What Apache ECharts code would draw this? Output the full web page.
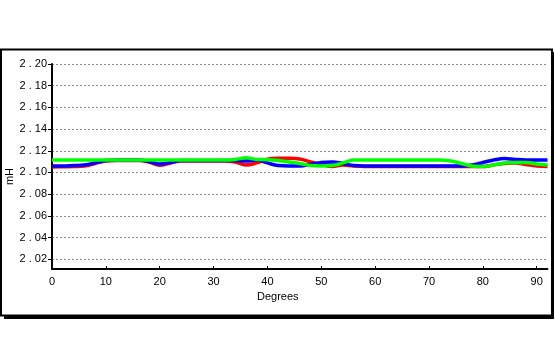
<!DOCTYPE html>
<html>
<head>
<meta charset="utf-8">
<script src="https://cdn.jsdelivr.net/npm/echarts@6/dist/echarts.min.js"></script>
<style>html,body{margin:0;padding:0;background:#fff;}#c{width:555px;height:360px;}</style>
</head>
<body>
<div id="c"></div>
<script>
var degrees = [0,2,4,6,8,10,12,14,16,18,20,22,24,26,28,30,32,34,36,38,40,42,44,46,48,50,52,54,56,58,60,62,64,66,68,70,72,74,76,78,80,82,84,86,88,90,92];
var redValues = [2.1051,2.1053,2.1055,2.1060,2.1083,2.1106,2.1110,2.1110,2.1110,2.1097,2.1066,2.1088,2.1106,2.1106,2.1106,2.1106,2.1106,2.1097,2.1069,2.1088,2.1122,2.1131,2.1131,2.1125,2.1097,2.1074,2.1055,2.1069,2.1060,2.1055,2.1055,2.1055,2.1055,2.1055,2.1055,2.1055,2.1055,2.1055,2.1055,2.1055,2.1055,2.1069,2.1083,2.1088,2.1074,2.1060,2.1055];
var blueValues = [2.1060,2.1060,2.1064,2.1069,2.1088,2.1110,2.1115,2.1115,2.1115,2.1101,2.1078,2.1092,2.1110,2.1110,2.1110,2.1110,2.1110,2.1110,2.1106,2.1115,2.1088,2.1064,2.1060,2.1060,2.1074,2.1092,2.1097,2.1083,2.1064,2.1060,2.1060,2.1060,2.1060,2.1060,2.1060,2.1060,2.1060,2.1060,2.1060,2.1069,2.1092,2.1115,2.1129,2.1120,2.1115,2.1115,2.1115];
var greenValues = [2.1115,2.1115,2.1115,2.1115,2.1115,2.1115,2.1115,2.1115,2.1115,2.1115,2.1115,2.1115,2.1115,2.1115,2.1115,2.1115,2.1115,2.1120,2.1135,2.1120,2.1118,2.1110,2.1097,2.1083,2.1064,2.1060,2.1064,2.1088,2.1115,2.1115,2.1115,2.1115,2.1115,2.1115,2.1115,2.1115,2.1115,2.1106,2.1083,2.1060,2.1055,2.1069,2.1088,2.1092,2.1092,2.1078,2.1069];
var yTicks = [2.02,2.04,2.06,2.08,2.10,2.12,2.14,2.16,2.18,2.20];
var xTicks = [0,10,20,30,40,50,60,70,80,90];
var xName = 'Degrees';
var yName = 'mH';

function pairs(vals){ return degrees.map(function(d,i){ return [d, vals[i]]; }); }

var chart = echarts.init(document.getElementById('c'), null, {renderer:'canvas'});
var font = 'Liberation Sans, Arial, sans-serif';
chart.setOption({
  animation:false,
  backgroundColor:'#fff',
  grid:{left:52, right:7.5, top:64, bottom:91, containLabel:false, outerBoundsMode:'none'},
  xAxis:{
    type:'value', min:0, max:92,
    axisLine:{lineStyle:{color:'#000', width:2}},
    axisTick:{show:true, inside:true, length:3, customValues:xTicks, lineStyle:{color:'#000'}},
    axisLabel:{customValues:xTicks, color:'#000', fontFamily:font, fontSize:11, margin:7},
    splitLine:{show:false}
  },
  yAxis:{
    type:'value', min:2.011, max:2.20,
    name:yName, nameLocation:'middle', nameRotate:90, nameGap:37, nameMoveOverlap:false,
    nameTextStyle:{color:'#000', fontFamily:font, fontSize:11, padding:[0,20,0,0]},
    axisLine:{show:true, lineStyle:{color:'#000', width:2}},
    axisTick:{show:true, length:4, customValues:yTicks, lineStyle:{color:'#000'}},
    axisLabel:{customValues:yTicks, color:'#000', fontFamily:font, fontSize:11, margin:5,
      formatter:function(v){ return v.toFixed(2).replace('.', ' . '); }},
    splitLine:{show:true, lineStyle:{color:'#888', width:1, type:[2,2]}}
  },
  series:[
    {type:'line', data:pairs(redValues), smooth:0.4, symbol:'none', lineStyle:{color:'#ff0000', width:3.5}},
    {type:'line', data:pairs(blueValues), smooth:0.4, symbol:'none', lineStyle:{color:'#0000ff', width:3.5}},
    {type:'line', data:pairs(greenValues), smooth:0.4, symbol:'none', lineStyle:{color:'#00ff00', width:3.5}}
  ],
  graphic:[
    {type:'rect', z:100, silent:true, shape:{x:1, y:49.5, width:551, height:266}, style:{fill:null, stroke:'#000', lineWidth:2}},
    {type:'rect', z:100, silent:true, shape:{x:552, y:52, width:2, height:267}, style:{fill:'#000'}},
    {type:'rect', z:100, silent:true, shape:{x:4, y:316, width:550, height:3}, style:{fill:'#000'}},
    {type:'text', z:100, left:257, top:291, style:{text:xName, fill:'#000', font:'11px ' + font}}
  ]
});
</script>
</body>
</html>
